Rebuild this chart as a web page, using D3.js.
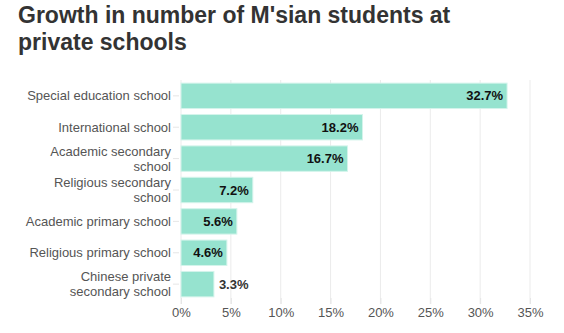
<!DOCTYPE html>
<html>
<head>
<meta charset="utf-8">
<script src="https://cdn.jsdelivr.net/npm/d3@7"></script>
<style>
  body { margin: 0; background: #fff; }
  svg { display: block; font-family: "Liberation Sans", Arial, sans-serif; }
</style>
</head>
<body>
<svg id="chart" width="564" height="333"></svg>
<script>
// data
const categories = [
  "Special education school",
  "International school",
  "Academic secondary school",
  "Religious secondary school",
  "Academic primary school",
  "Religious primary school",
  "Chinese private secondary school"
]
// how each label is broken over lines
const labelLines = [
  ["Special education school"],
  ["International school"],
  ["Academic secondary", "school"],
  ["Religious secondary", "school"],
  ["Academic primary school"],
  ["Religious primary school"],
  ["Chinese private", "secondary school"]
]
const growth = [32.7, 18.2, 16.7, 7.2, 5.6, 4.6, 3.3]
const xTicks = [0, 5, 10, 15, 20, 25, 30, 35]

const svg = d3.select('#chart')

const x = d3.scaleLinear().domain([0, 35]).range([181, 530])
const y = d3.scaleBand().domain(categories).range([80, 300]).paddingInner(0.19).paddingOuter(0.1)

// title
svg.append('text')
  .attr('fill', '#333')
  .style('font-size', '23px').style('font-weight', 700)
  .selectAll('tspan')
  .data(["Growth in number of M'sian students at", "private schools"])
  .join('tspan')
  .attr('x', 18)
  .attr('y', (d, i) => 23 + i * 26.5)
  .text(d => d)

// grid
svg.append('g')
  .selectAll('line')
  .data(xTicks)
  .join('line')
  .attr('x1', d => x(d)).attr('x2', d => x(d))
  .attr('y1', 80).attr('y2', 304)
  .attr('stroke', '#ebebeb').attr('stroke-width', 1)

// bars
svg.append('g')
  .selectAll('rect')
  .data(growth)
  .join('rect')
  .attr('x', x(0))
  .attr('y', (d, i) => y(categories[i]))
  .attr('width', d => x(d) - x(0))
  .attr('height', y.bandwidth())
  .attr('fill', '#96e3cf')
  .attr('stroke', '#d4f4eb').attr('stroke-width', 1)

// value labels
svg.append('g')
  .selectAll('text')
  .data(growth)
  .join('text')
  .attr('x', d => d > 4 ? x(d) - 4 : x(d) + 5)
  .attr('y', (d, i) => y(categories[i]) + y.bandwidth() / 2)
  .attr('dy', '0.35em')
  .attr('text-anchor', d => d > 4 ? 'end' : 'start')
  .attr('fill', d => d > 4 ? '#111' : '#333')
  .style('font-size', '13px').style('font-weight', 700)
  .text(d => d.toFixed(1) + '%')

// y axis labels and ticks
const yg = svg.append('g')
categories.forEach((c, i) => {
  const cy = y(c) + y.bandwidth() / 2
  yg.append('line')
    .attr('x1', 173).attr('x2', 179)
    .attr('y1', cy).attr('y2', cy)
    .attr('stroke', '#e6e6e6')
  const lines = labelLines[i]
  yg.append('text')
    .attr('text-anchor', 'end')
    .attr('fill', '#555')
    .style('font-size', '13px')
    .selectAll('tspan')
    .data(lines)
    .join('tspan')
    .attr('x', 171)
    .attr('y', (d, j) => cy + (j - (lines.length - 1) / 2) * 15)
    .attr('dy', '0.35em')
    .text(d => d)
})

// x axis
const xAxis = svg.append('g')
  .attr('transform', 'translate(0,298)')
  .call(d3.axisBottom(x).tickValues(xTicks).tickFormat(d => d + '%').tickSize(6).tickPadding(4))
xAxis.select('.domain').remove()
xAxis.selectAll('line').attr('stroke', '#e6e6e6')
xAxis.selectAll('text').attr('fill', '#555').style('font-size', '13px').style('font-family', '"Liberation Sans", Arial, sans-serif')
</script>
</body>
</html>
